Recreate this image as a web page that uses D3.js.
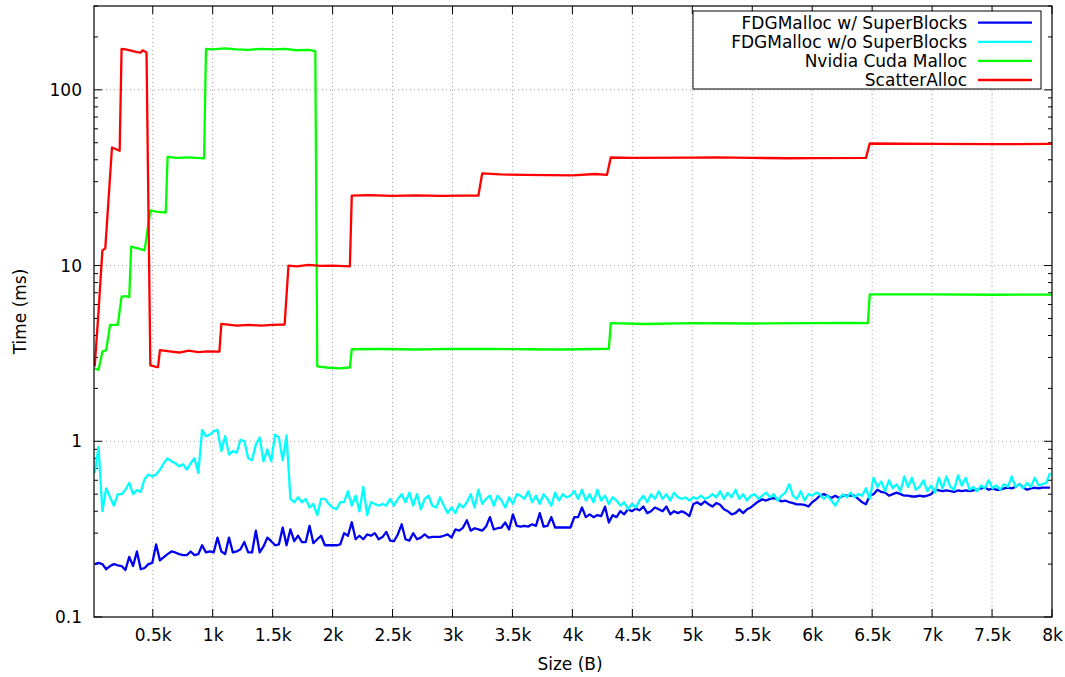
<!DOCTYPE html>
<html>
<head>
<meta charset="utf-8" />
<title>Allocator timing</title>
<script src="https://d3js.org/d3.v7.min.js"></script>
<style>
    body { margin: 0; background: white; }
    svg { display: block; font-family: "DejaVu Sans", sans-serif; }
    .grid line { stroke: #a0a0a0; stroke-width: 1; stroke-dasharray: 1,3; }
    .ticks line { stroke: black; stroke-width: 1; }
    .lbl { font-size: 17px; fill: black; }
</style>
</head>
<body>
<div id="chart"></div>
<script>
// Sizes (bytes) sampled every 32 B for the two FDGMalloc series
var sizes = d3.range(16, 8000, 32);

var fdgSuper = [
    0.20, 0.203, 0.20, 0.187, 0.195, 0.20, 0.197, 0.195, 0.185, 0.22,
    0.195, 0.236, 0.187, 0.19, 0.20, 0.203, 0.259, 0.21, 0.219, 0.228,
    0.236, 0.233, 0.228, 0.225, 0.225, 0.236, 0.225, 0.228, 0.256, 0.233,
    0.236, 0.233, 0.283, 0.236, 0.228, 0.283, 0.233, 0.236, 0.243, 0.267,
    0.233, 0.233, 0.31, 0.233, 0.252, 0.283, 0.27, 0.256, 0.259, 0.323,
    0.256, 0.315, 0.27, 0.29, 0.267, 0.267, 0.33, 0.263, 0.277, 0.29,
    0.256, 0.256, 0.256, 0.256, 0.259, 0.30, 0.29, 0.346, 0.277, 0.29,
    0.277, 0.295, 0.29, 0.30, 0.277, 0.285, 0.305, 0.272, 0.27, 0.295,
    0.337, 0.277, 0.272, 0.30, 0.277, 0.283, 0.295, 0.283, 0.286, 0.286,
    0.286, 0.29, 0.295, 0.283, 0.315, 0.31, 0.323, 0.355, 0.31, 0.32,
    0.315, 0.31, 0.327, 0.37, 0.315, 0.32, 0.323, 0.345, 0.315, 0.384,
    0.33, 0.327, 0.33, 0.327, 0.337, 0.33, 0.39, 0.327, 0.33, 0.37,
    0.323, 0.323, 0.323, 0.323, 0.323, 0.37, 0.37, 0.42, 0.37, 0.384,
    0.37, 0.38, 0.375, 0.425, 0.345, 0.38, 0.37, 0.40, 0.384, 0.41,
    0.40, 0.414, 0.405, 0.425, 0.39, 0.40, 0.42, 0.41, 0.40, 0.425,
    0.384, 0.40, 0.39, 0.40, 0.39, 0.375, 0.438, 0.45, 0.435, 0.455,
    0.438, 0.425, 0.445, 0.435, 0.41, 0.40, 0.384, 0.39, 0.41, 0.39,
    0.41, 0.42, 0.438, 0.455, 0.467, 0.46, 0.47, 0.475, 0.467, 0.455,
    0.46, 0.45, 0.445, 0.438, 0.438, 0.435, 0.425, 0.45, 0.467, 0.49,
    0.50, 0.49, 0.475, 0.49, 0.475, 0.49, 0.49, 0.49, 0.49, 0.47,
    0.45, 0.438, 0.49, 0.50, 0.53, 0.515, 0.51, 0.49, 0.50, 0.51,
    0.50, 0.49, 0.49, 0.485, 0.485, 0.49, 0.485, 0.49, 0.50, 0.53,
    0.525, 0.52, 0.525, 0.52, 0.515, 0.525, 0.52, 0.525, 0.52, 0.525,
    0.53, 0.54, 0.545, 0.53, 0.54, 0.53, 0.53, 0.54, 0.545, 0.54,
    0.55, 0.57, 0.545, 0.53, 0.54, 0.545, 0.54, 0.545, 0.545, 0.545
];

var fdgNoSuper = [
    0.66, 0.93, 0.40, 0.54, 0.48, 0.43, 0.50, 0.50, 0.53, 0.58,
    0.50, 0.527, 0.515, 0.61, 0.647, 0.63, 0.647, 0.69, 0.75, 0.80,
    0.77, 0.75, 0.72, 0.74, 0.69, 0.75, 0.80, 0.66, 1.16, 1.07,
    1.09, 1.14, 1.16, 0.88, 1.07, 0.84, 0.88, 0.86, 1.02, 1.0,
    0.80, 0.78, 0.96, 1.05, 0.77, 0.90, 0.77, 1.09, 1.05, 0.78,
    1.08, 0.47, 0.45, 0.48, 0.45, 0.47, 0.42, 0.44, 0.38, 0.47,
    0.47, 0.44, 0.42, 0.41, 0.45, 0.45, 0.52, 0.43, 0.49, 0.40,
    0.55, 0.38, 0.45, 0.44, 0.43, 0.44, 0.43, 0.47, 0.43, 0.47,
    0.50, 0.45, 0.51, 0.43, 0.50, 0.41, 0.47, 0.49, 0.43, 0.42,
    0.48, 0.43, 0.39, 0.42, 0.39, 0.44, 0.42, 0.45, 0.50, 0.42,
    0.53, 0.44, 0.47, 0.49, 0.43, 0.49, 0.46, 0.42, 0.48, 0.44,
    0.50, 0.49, 0.47, 0.52, 0.45, 0.49, 0.44, 0.50, 0.47, 0.43,
    0.51, 0.46, 0.50, 0.48, 0.49, 0.52, 0.47, 0.53, 0.46, 0.50,
    0.45, 0.53, 0.46, 0.49, 0.44, 0.48, 0.46, 0.43, 0.45, 0.41,
    0.44, 0.42, 0.46, 0.49, 0.45, 0.50, 0.47, 0.52, 0.47, 0.50,
    0.46, 0.51, 0.48, 0.47, 0.48, 0.46, 0.48, 0.47, 0.49, 0.47,
    0.48, 0.50, 0.48, 0.52, 0.47, 0.51, 0.48, 0.53, 0.47, 0.50,
    0.46, 0.49, 0.50, 0.47, 0.49, 0.51, 0.48, 0.50, 0.46, 0.49,
    0.51, 0.57, 0.49, 0.47, 0.52, 0.46, 0.50, 0.49, 0.51, 0.50,
    0.47, 0.49, 0.46, 0.43, 0.47, 0.50, 0.48, 0.51, 0.48, 0.50,
    0.49, 0.54, 0.47, 0.62, 0.55, 0.59, 0.52, 0.60, 0.54, 0.57,
    0.52, 0.63, 0.55, 0.62, 0.53, 0.55, 0.60, 0.52, 0.56, 0.51,
    0.62, 0.54, 0.63, 0.55, 0.53, 0.64, 0.56, 0.62, 0.53, 0.55,
    0.52, 0.56, 0.54, 0.60, 0.54, 0.56, 0.53, 0.57, 0.55, 0.63,
    0.55, 0.57, 0.54, 0.58, 0.55, 0.62, 0.56, 0.57, 0.58, 0.66
];

// Nvidia Cuda Malloc: step-like, read at the step edges and along the plateaus
var cudaSizes = [16, 48, 80, 112, 144, 208, 240, 272, 304, 320, 384, 432, 480, 528, 608, 624,
    700, 800, 928, 944, 1000, 1100, 1200, 1300, 1400, 1500, 1600, 1700, 1800, 1856, 1872,
    1950, 2050, 2144, 2160, 2400, 2700, 3000, 3300, 3600, 3900, 4200, 4304, 4320,
    4600, 5000, 5500, 6000, 6300, 6464, 6480, 7000, 7500, 8000];
var cudaTimes = [2.6, 2.55, 3.24, 3.3, 4.6, 4.6, 6.65, 6.7, 6.6, 12.8, 12.5, 12.2, 20.6, 20.3, 20.0, 41.6,
    41.0, 41.3, 40.7, 171, 170, 172, 170, 169, 171, 170, 171, 168, 169, 166, 2.67,
    2.63, 2.6, 2.63, 3.34, 3.35, 3.33, 3.36, 3.35, 3.34, 3.33, 3.35, 3.36, 4.7,
    4.65, 4.7, 4.68, 4.7, 4.72, 4.7, 6.86, 6.85, 6.82, 6.83];

// ScatterAlloc
var scatterSizes = [16, 48, 80, 104, 128, 160, 224, 240, 272, 320, 368, 400, 416, 448, 480,
    528, 544, 560, 640, 720, 800, 880, 960, 1056, 1072, 1200, 1300, 1400, 1500, 1600, 1632,
    1700, 1800, 1900, 2000, 2144, 2160, 2300, 2500, 2700, 2900, 3100, 3216, 3248,
    3400, 3600, 3800, 4000, 4192, 4288, 4320, 4500, 5000, 5200, 5500, 5800, 6000, 6448, 6480,
    7000, 7500, 8000];
var scatterTimes = [2.67, 5.5, 12.2, 12.5, 22, 47, 45, 171, 170, 167, 164, 163, 168, 163, 2.7,
    2.65, 2.64, 3.3, 3.25, 3.2, 3.28, 3.22, 3.25, 3.24, 4.66, 4.55, 4.6, 4.55, 4.6, 4.62, 10.0,
    9.9, 10.1, 9.95, 10.0, 9.9, 25.0, 25.2, 24.9, 25.1, 24.9, 25.0, 25.0, 33.5,
    33.0, 32.8, 32.7, 32.6, 33.2, 32.8, 41.2, 41.0, 41.1, 41.3, 41.0, 40.8, 40.9, 41.0, 49.5,
    49.3, 49.1, 49.2];

var seriesNames = ["FDGMalloc w/ SuperBlocks", "FDGMalloc w/o SuperBlocks", "Nvidia Cuda Malloc", "ScatterAlloc"];
var seriesColors = ["#0000f0", "#00ffff", "#00ff00", "#ff0000"];
var xTicks = [500, 1000, 1500, 2000, 2500, 3000, 3500, 4000, 4500, 5000, 5500, 6000, 6500, 7000, 7500, 8000];
var yTicks = [0.1, 1, 10, 100];

var width = 1065, height = 677;
var margin = { top: 6, right: 13, bottom: 60, left: 94 };
var w = width - margin.left - margin.right;
var h = height - margin.top - margin.bottom;

var svg = d3.select("#chart").append("svg")
    .attr("width", width).attr("height", height);
var g = svg.append("g").attr("transform", "translate(" + margin.left + "," + margin.top + ")");

var x = d3.scaleLinear().domain([10, 8000]).range([0, w]);
var y = d3.scaleLog().domain([0.1, 300]).range([h, 0]);

// grid
var grid = g.append("g").attr("class", "grid");
grid.selectAll(".gx").data(xTicks.filter(function (d) { return d < 8000; }))
    .enter().append("line")
    .attr("x1", function (d) { return x(d); }).attr("x2", function (d) { return x(d); })
    .attr("y1", 0).attr("y2", h);
grid.selectAll(".gy").data(yTicks.filter(function (d) { return d > 0.1; }))
    .enter().append("line")
    .attr("x1", 0).attr("x2", w)
    .attr("y1", function (d) { return y(d); }).attr("y2", function (d) { return y(d); });

// minor log ticks
var minor = [];
[0.1, 1, 10, 100].forEach(function (dec) {
    for (var k = 2; k <= 9; k++) { if (dec * k <= 300) minor.push(dec * k); }
});

var ticks = g.append("g").attr("class", "ticks");
xTicks.forEach(function (d) {
    ticks.append("line").attr("x1", x(d)).attr("x2", x(d)).attr("y1", h).attr("y2", h - 8);
    ticks.append("line").attr("x1", x(d)).attr("x2", x(d)).attr("y1", 0).attr("y2", 8);
});
yTicks.forEach(function (d) {
    ticks.append("line").attr("x1", 0).attr("x2", 8).attr("y1", y(d)).attr("y2", y(d));
    ticks.append("line").attr("x1", w).attr("x2", w - 8).attr("y1", y(d)).attr("y2", y(d));
});
minor.forEach(function (d) {
    ticks.append("line").attr("x1", 0).attr("x2", 4).attr("y1", y(d)).attr("y2", y(d));
    ticks.append("line").attr("x1", w).attr("x2", w - 4).attr("y1", y(d)).attr("y2", y(d));
});

// tick labels through d3 axes (tick lines drawn above)
var xAxis = d3.axisBottom(x).tickValues(xTicks).tickSize(0).tickPadding(12)
    .tickFormat(function (d) { return (d / 1000) + "k"; });
g.append("g").attr("transform", "translate(0," + h + ")").call(xAxis)
    .call(function (s) { s.select(".domain").remove(); })
    .selectAll("text").attr("class", "lbl").style("font-size", "17px").style("font-family", "DejaVu Sans");

var yAxis = d3.axisLeft(y).tickValues(yTicks).tickSize(0).tickPadding(12)
    .tickFormat(function (d) { return d3.format("~g")(d); });
g.append("g").call(yAxis)
    .call(function (s) { s.select(".domain").remove(); })
    .selectAll("text").attr("class", "lbl").style("font-size", "17px").style("font-family", "DejaVu Sans");

// series
svg.append("defs").append("clipPath").attr("id", "clip")
    .append("rect").attr("width", w).attr("height", h);
var plot = g.append("g").attr("clip-path", "url(#clip)");

var line = d3.line()
    .x(function (d) { return x(d[0]); })
    .y(function (d) { return y(d[1]); });

var allSeries = [
    d3.zip(sizes, fdgSuper),
    d3.zip(sizes, fdgNoSuper),
    d3.zip(cudaSizes, cudaTimes),
    d3.zip(scatterSizes, scatterTimes)
];
allSeries.forEach(function (data, i) {
    plot.append("path").datum(data)
        .attr("d", line)
        .attr("fill", "none")
        .attr("stroke", seriesColors[i])
        .attr("stroke-width", 2.3)
        .attr("stroke-linejoin", "round");
});

// border
g.append("rect").attr("width", w).attr("height", h)
    .attr("fill", "none").attr("stroke", "black").attr("stroke-width", 1.2);

// axis titles
svg.append("text").attr("class", "lbl")
    .attr("transform", "translate(26," + (margin.top + h / 2) + ") rotate(-90)")
    .attr("text-anchor", "middle").text("Time (ms)");
svg.append("text").attr("class", "lbl")
    .attr("x", margin.left + w / 2 - 3).attr("y", 670)
    .attr("text-anchor", "middle").text("Size (B)");

// legend
var legend = svg.append("g");
legend.append("rect").attr("x", 693).attr("y", 11).attr("width", 348).attr("height", 78)
    .attr("fill", "white").attr("stroke", "black").attr("stroke-width", 1);
seriesNames.forEach(function (name, i) {
    var ly = 22.7 + i * 19.1;
    legend.append("text").attr("class", "lbl")
        .attr("x", 967).attr("y", ly).attr("dy", "0.35em")
        .attr("text-anchor", "end").text(name);
    legend.append("line").attr("x1", 978).attr("x2", 1032)
        .attr("y1", ly).attr("y2", ly)
        .attr("stroke", seriesColors[i]).attr("stroke-width", 2.3);
});
</script>
</body>
</html>
